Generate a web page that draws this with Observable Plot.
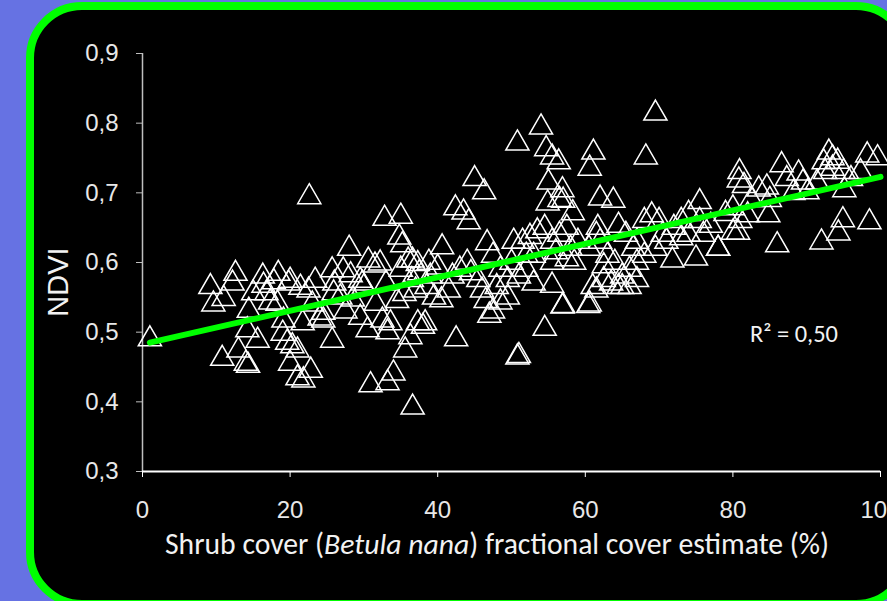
<!DOCTYPE html>
<html><head><meta charset="utf-8">
<script src="https://cdn.jsdelivr.net/npm/d3@7"></script>
<script src="https://cdn.jsdelivr.net/npm/@observablehq/plot@0.6"></script>
<style>
html,body{margin:0;padding:0;width:887px;height:601px;overflow:hidden;background:#6672e3;}
#panel{position:absolute;left:26px;top:2px;width:870px;height:590px;border:8px solid #00ff00;border-radius:56px;background:#000;}
#chart{position:absolute;left:0;top:0;}
</style></head><body>
<div id="panel"></div>
<div id="chart"></div>
<script>
// ---- data ----
const shrubCover = [
1,9.2,9.6,11,12.6,12.2,10.8,13,14,14.3,14.4,14.2,15.6,16.3,16.4,17.8,18.4,17.3,18.3,19.1,19,19.6,20,19.8,20.3,16.8,15,
20,21.4,21.7,21,21,21.8,22.8,22.6,23.4,24.5,24.5,25.7,25.7,25.9,27.2,28.2,28,29.5,29.8,29.5,30.5,30.9,31.6,32.2,30.6,31.5,32.5,33.2,34,33.2,33.6,35.6,36.3,36.6,37,37.3,38,36,36.6,37.3,32.8,35,34.8,35.2,26.8,27.5,28.5,30,33,34.5,35.5,36.5,37.5,38.5,39,35,38.3,22.5,23,24,26,38.8,40,39.5,
40.6,42.4,43.5,44.2,45,46.3,46.7,42.5,40.5,41.5,42,43,44,44.5,45.5,46,46.5,47,48.5,47.5,48,48.5,49.5,50,50.3,51.5,52.5,53.5,54.5,50.8,51,50.8,54,54.7,55.5,56.4,55,56.9,54.9,57,58.3,56.5,54.5,55.5,57,56.9,49.5,51,52,53,55.5,56,57.5,58,58.5,59,56.5,57.5,55.5,53,52,47.5,
61.1,60.6,62,63.8,64.5,61.7,60.4,60.6,61.5,62.5,63.5,64.5,65,66,67,68,69.5,68.2,68,69,70.5,71.8,71,72,73,74,75,75.5,75.5,77,78,76,79,60.5,61.5,62,63,64,65.5,66.5,67,69.5,70,73,74,61,62.5,65,66,67,
80.9,80.8,80,82,84.8,84.6,83.5,80,80.7,78,82.5,86.6,88.9,87.3,91.4,90.1,88.2,86,92,94.3,94.9,98.5,95.1,93,93.5,94.2,92.3,98.2,99.6,97.3,93.5,95,96,92.5,85,81.5,89.5,81
];
const ndvi = [
0.49,0.565,0.54,0.548,0.584,0.57,0.462,0.474,0.455,0.452,0.531,0.503,0.488,0.58,0.567,0.572,0.584,0.543,0.541,0.517,0.498,0.485,0.455,0.57,0.48,0.556,0.556,
0.574,0.564,0.513,0.474,0.434,0.431,0.445,0.694,0.574,0.528,0.517,0.589,0.488,0.556,0.589,0.582,0.62,0.574,0.57,0.521,0.503,0.424,0.541,0.599,0.603,0.596,0.517,0.427,0.441,0.5,0.513,0.474,0.493,0.392,0.56,0.513,0.508,0.603,0.603,0.598,0.663,0.666,0.636,0.625,0.55,0.53,0.547,0.565,0.57,0.545,0.555,0.575,0.585,0.565,0.58,0.59,0.513,0.56,0.54,0.52,0.57,0.6,0.593,0.55,
0.622,0.678,0.672,0.658,0.72,0.701,0.628,0.49,0.546,0.56,0.58,0.59,0.6,0.585,0.575,0.56,0.545,0.524,0.543,0.53,0.565,0.59,0.575,0.6,0.63,0.63,0.637,0.645,0.65,0.464,0.466,0.771,0.794,0.763,0.751,0.744,0.715,0.704,0.685,0.689,0.671,0.69,0.505,0.567,0.538,0.537,0.55,0.58,0.59,0.57,0.6,0.615,0.605,0.62,0.6,0.63,0.64,0.65,0.63,0.61,0.61,0.61,
0.758,0.735,0.692,0.689,0.653,0.65,0.538,0.54,0.56,0.575,0.57,0.565,0.58,0.59,0.6,0.61,0.814,0.751,0.66,0.668,0.64,0.603,0.63,0.65,0.635,0.64,0.606,0.687,0.66,0.653,0.62,0.64,0.67,0.62,0.64,0.63,0.61,0.6,0.64,0.62,0.63,0.62,0.66,0.66,0.67,0.565,0.595,0.565,0.565,0.575,
0.73,0.718,0.678,0.668,0.668,0.708,0.705,0.643,0.643,0.62,0.69,0.74,0.728,0.72,0.715,0.701,0.7,0.625,0.629,0.642,0.661,0.658,0.704,0.758,0.75,0.745,0.744,0.754,0.75,0.73,0.735,0.73,0.72,0.73,0.69,0.71,0.715,0.66
];
const trendX = [1, 100];
const trendY = [0.485, 0.723];
const xTicks = [0, 20, 40, 60, 80, 100];
const yTicks = [0.3, 0.4, 0.5, 0.6, 0.7, 0.8, 0.9];
const xTitleParts = [["Shrub cover (", false], ["Betula nana", true], [") fractional cover estimate (%)", false]];
const yTitle = "NDVI";
const r2Label = "R² = 0,50";

const points = shrubCover.map((x, i) => ({x, y: ndvi[i]}));
const trend = trendX.map((x, i) => ({x, y: trendY[i]}));

const plot = Plot.plot({
  width: 887, height: 601,
  marginLeft: 142, marginRight: 7, marginTop: 53, marginBottom: 130,
  x: {domain: [0, 100]},
  y: {domain: [0.3, 0.9]},
  style: {background: "transparent", color: "#e8e8e8", fontFamily: "'Liberation Sans', Arial, sans-serif", fontSize: "24px", overflow: "visible"},
  marks: [
    Plot.axisY({ticks: yTicks, tickFormat: d => d.toFixed(1).replace(".", ","), tickSize: 6, tickPadding: 18, stroke: "#bfbfbf", fill: "#e8e8e8", label: null, fontSize: 24}),
    Plot.axisX({ticks: xTicks, tickFormat: d => String(d), tickSize: 6, tickPadding: 23, stroke: "#ffffff", fill: "#e8e8e8", label: null, fontSize: 24}),
    Plot.ruleX([0], {stroke: "#bfbfbf", strokeWidth: 1.5}),
    Plot.ruleY([0.3], {stroke: "#ffffff", strokeWidth: 2}),
    Plot.dot(points, {x: "x", y: "y", symbol: "triangle", r: 8.6, stroke: "#ffffff", fill: "none", strokeWidth: 1.5}),
    Plot.line(trend, {x: "x", y: "y", stroke: "#00ff00", strokeWidth: 6})
  ]
});
document.getElementById("chart").appendChild(plot);

const svg = d3.select(plot);
const calibri = "Carlito, Calibri, Lato, 'Open Sans', sans-serif";
// x title
const xt = svg.append("text").attr("x", 497).attr("y", 554).attr("text-anchor", "middle")
  .attr("fill", "#f2f2f2").style("font-family", calibri).style("font-size", "28px");
xTitleParts.forEach(([t, it]) => xt.append("tspan").text(t).style("font-style", it ? "italic" : "normal"));
let w = xt.node().getComputedTextLength();
xt.style("font-size", (28 * 664 / w).toFixed(2) + "px");
// y title
svg.append("text").attr("transform", "translate(58,282) rotate(-90)").attr("text-anchor", "middle")
  .attr("dy", "0.36em").attr("fill", "#f2f2f2").style("font-family", "'Liberation Sans', Arial, sans-serif")
  .style("font-size", "29px").text(yTitle);
// R2
const r2 = svg.append("text").attr("x", 750).attr("y", 342).attr("text-anchor", "start").attr("fill", "#f2f2f2")
  .style("font-family", calibri).style("font-size", "22px").text(r2Label);
let w2 = r2.node().getComputedTextLength();
r2.style("font-size", (22 * 88 / w2).toFixed(2) + "px");
</script>
</body></html>
